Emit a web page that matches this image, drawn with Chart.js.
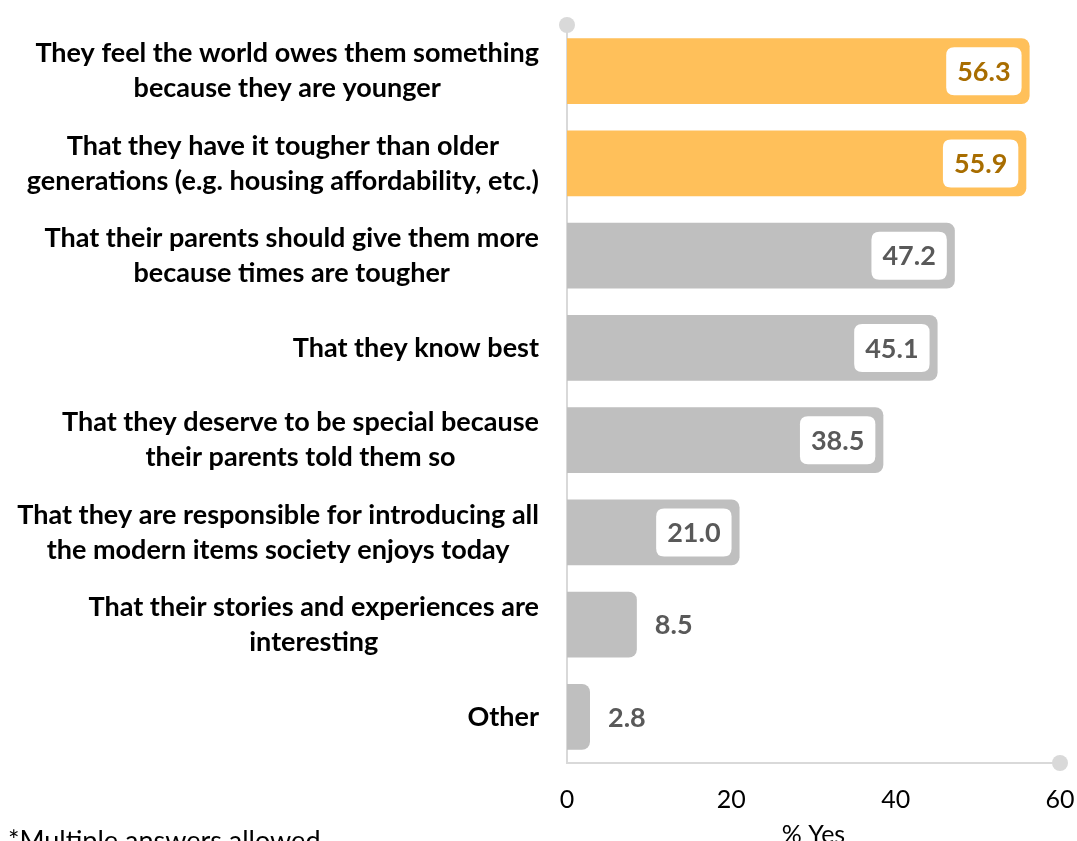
<!DOCTYPE html>
<html lang="en">
  <head>
    <meta charset="UTF-8" />
    <title>% Yes</title>
    <script src="https://cdn.jsdelivr.net/npm/chart.js"></script>
    <style>
      html, body {
        margin: 0;
        padding: 0;
        background: #fff;
        overflow: hidden;
      }
      .frame {
        width: 1077px;
        height: 841px;
        overflow: hidden;
      }
      .wrap {
        position: relative;
        width: 1077px;
        height: 850px;
      }
    </style>
  </head>
  <body>
    <div class="frame">
      <div class="wrap">
        <canvas id="barChart"></canvas>
      </div>
    </div>

    <script>
      // data
      const categories = [
        ["They feel the world owes them something", "because they are younger"],
        ["That they have it tougher than older", "generations (e.g. housing affordability, etc.)"],
        ["That their parents should give them more", "because times are tougher"],
        ["That they know best"],
        ["That they deserve to be special because", "their parents told them so"],
        ["That they are responsible for introducing all", "the modern items society enjoys today"],
        ["That their stories and experiences are", "interesting"],
        ["Other"]
      ];
      const values = [56.3, 55.9, 47.2, 45.1, 38.5, 21.0, 8.5, 2.8];
      const xTicks = [0, 20, 40, 60];
      const axisTitle = "% Yes";
      const footnote = "*Multiple answers allowed";
      const highlighted = [0, 1];

      const FONT = "Lato, 'Open Sans', sans-serif";
      const ORANGE = "#FFC05A";
      const GRAY = "#BFBFBF";
      const LINE = "#D9D9D9";

      function isHi(i) {
        return highlighted.includes(i);
      }

      function roundRect(ctx, x, y, w, h, r) {
        ctx.beginPath();
        ctx.moveTo(x + r, y);
        ctx.lineTo(x + w - r, y);
        ctx.quadraticCurveTo(x + w, y, x + w, y + r);
        ctx.lineTo(x + w, y + h - r);
        ctx.quadraticCurveTo(x + w, y + h, x + w - r, y + h);
        ctx.lineTo(x + r, y + h);
        ctx.quadraticCurveTo(x, y + h, x, y + h - r);
        ctx.lineTo(x, y + r);
        ctx.quadraticCurveTo(x, y, x + r, y);
        ctx.closePath();
      }

      const extras = {
        id: "extras",
        afterDraw(chart) {
          const ctx = chart.ctx;
          const area = chart.chartArea;
          const yScale = chart.scales.y;
          const xScale = chart.scales.x;

          // axis end dots
          ctx.save();
          ctx.fillStyle = LINE;
          ctx.beginPath();
          ctx.arc(area.left, area.top, 8, 0, Math.PI * 2);
          ctx.fill();
          ctx.beginPath();
          ctx.arc(area.right, area.bottom, 8, 0, Math.PI * 2);
          ctx.fill();
          ctx.restore();

          // category labels: block right-aligned, lines centred
          ctx.save();
          ctx.font = "bold 27px " + FONT;
          ctx.fillStyle = "#000";
          ctx.textAlign = "center";
          ctx.textBaseline = "middle";
          const rightEdge = area.left - 28;
          categories.forEach((lines, i) => {
            const y = yScale.getPixelForTick(i);
            const w = Math.max(...lines.map(l => ctx.measureText(l).width));
            const cx = rightEdge - w / 2;
            lines.forEach((l, j) => {
              ctx.fillText(l, cx, y + (j - (lines.length - 1) / 2) * 35);
            });
          });
          ctx.restore();

          // value labels
          ctx.save();
          ctx.font = "bold 27px " + FONT;
          ctx.textBaseline = "middle";
          const meta = chart.getDatasetMeta(0);
          meta.data.forEach((bar, i) => {
            const txt = values[i].toFixed(1);
            const tw = ctx.measureText(txt).width;
            const end = xScale.getPixelForValue(values[i]);
            const y = bar.y;
            if (values[i] >= 15) {
              const bw = tw + 22;
              const bx = end - 8 - bw;
              ctx.fillStyle = "#fff";
              roundRect(ctx, bx, y - 24, bw, 48, 8);
              ctx.fill();
              ctx.fillStyle = isHi(i) ? "#A86D00" : "#595959";
              ctx.textAlign = "center";
              ctx.fillText(txt, bx + bw / 2, y + 1);
            } else {
              ctx.fillStyle = "#595959";
              ctx.textAlign = "left";
              ctx.fillText(txt, end + 18, y + 1);
            }
          });
          ctx.restore();

          // footnote
          ctx.save();
          ctx.font = "27px " + FONT;
          ctx.fillStyle = "#000";
          ctx.textAlign = "left";
          ctx.textBaseline = "alphabetic";
          ctx.fillText(footnote, 8, 850);
          ctx.restore();
        }
      };

      new Chart(document.getElementById("barChart"), {
        type: "bar",
        data: {
          labels: categories.map(c => c.join(" ")),
          datasets: [{
            data: values,
            backgroundColor: ctx => isHi(ctx.dataIndex) ? ORANGE : GRAY,
            borderRadius: 8,
            borderSkipped: "start",
            barPercentage: 0.715,
            categoryPercentage: 1
          }]
        },
        options: {
          indexAxis: "y",
          responsive: true,
          maintainAspectRatio: false,
          animation: false,
          layout: { padding: { top: 25, right: 17, left: 0, bottom: 0 } },
          plugins: {
            legend: { display: false },
            tooltip: { enabled: false }
          },
          scales: {
            y: {
              grid: { display: false, drawTicks: false },
              border: { display: true, color: LINE, width: 2 },
              ticks: { display: false },
              afterFit: s => { s.width = 567; s.paddingTop = 0; s.paddingBottom = 0; }
            },
            x: {
              min: 0,
              max: 60,
              afterBuildTicks: s => { s.ticks = xTicks.map(v => ({ value: v })); },
              grid: { display: false, drawTicks: false },
              border: { display: true, color: LINE, width: 2 },
              ticks: {
                color: "#000",
                font: { family: FONT, size: 25 },
                padding: 22,
                maxRotation: 0
              },
              title: {
                display: true,
                text: axisTitle,
                color: "#000",
                font: { family: FONT, size: 25 },
                padding: { top: 0, bottom: 0 }
              },
              afterFit: s => { s.height = 87; s.paddingLeft = 0; s.paddingRight = 0; }
            }
          }
        },
        plugins: [extras]
      });
    </script>
  </body>
</html>
